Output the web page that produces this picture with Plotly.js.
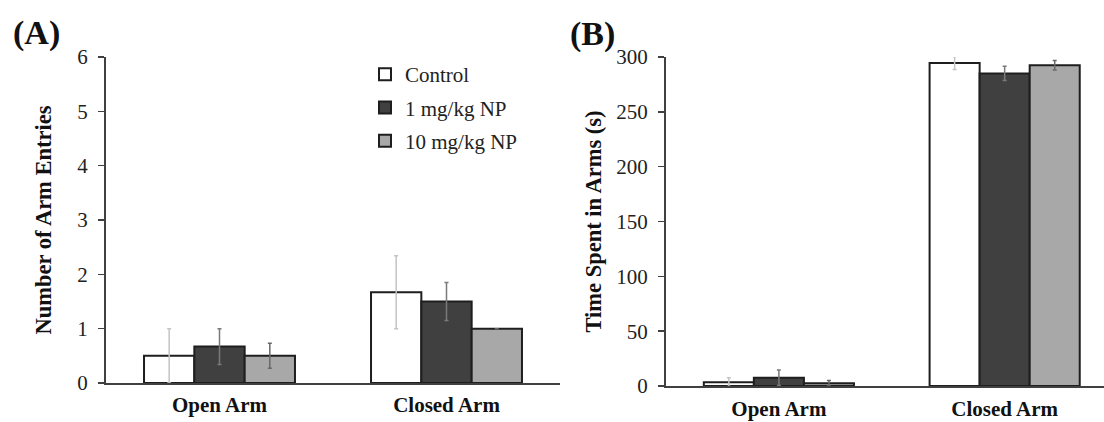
<!DOCTYPE html>
<html>
<head>
<meta charset="utf-8">
<script src="https://cdn.plot.ly/plotly-3.0.1.min.js"></script>
<style>html,body{margin:0;padding:0;background:#fff;}#chart{width:1104px;height:422px;}</style>
</head>
<body>
<div id="chart"></div>
<script>
const categories = ['Open Arm', 'Closed Arm'];
const seriesNames = ['Control', '1 mg/kg NP', '10 mg/kg NP'];

// Panel A: Number of Arm Entries
const entriesControl = [0.5, 1.67];
const entriesControlErr = [0.5, 0.67];
const entries1mg = [0.67, 1.5];
const entries1mgErr = [0.33, 0.35];
const entries10mg = [0.5, 1.0];
const entries10mgErr = [0.23, null];

// Panel B: Time Spent in Arms (s)
const timeControl = [3.5, 294.5];
const timeControlErr = [4, 6];
const time1mg = [7.5, 285];
const time1mgErr = [7, 6.5];
const time10mg = [2.5, 292.5];
const time10mgErr = [2.5, 4.3];

const yTicksA = [0, 1, 2, 3, 4, 5, 6];
const yTicksB = [0, 50, 100, 150, 200, 250, 300];

const fills = ['#ffffff', '#404040', '#a8a8a8'];
const errColors = ['#c4c4c4', '#7a7a7a', '#686868'];
const SERIF = 'Liberation Serif, Times New Roman, serif';

function mk(name, y, err, i, xa, ya, show) {
  return {
    type: 'bar', name: name, x: categories, y: y,
    xaxis: xa, yaxis: ya, showlegend: show, legendgroup: 'g' + i,
    marker: {color: fills[i], line: {color: '#1e1e1e', width: 2}},
    error_y: {type: 'data', array: err, visible: true, color: errColors[i], thickness: 1.5, width: 2},
    hoverinfo: 'skip'
  };
}

const data = [
  mk(seriesNames[0], entriesControl, entriesControlErr, 0, 'x', 'y', true),
  mk(seriesNames[1], entries1mg, entries1mgErr, 1, 'x', 'y', true),
  mk(seriesNames[2], entries10mg, entries10mgErr, 2, 'x', 'y', true),
  mk(seriesNames[0], timeControl, timeControlErr, 0, 'x2', 'y2', false),
  mk(seriesNames[1], time1mg, time1mgErr, 1, 'x2', 'y2', false),
  mk(seriesNames[2], time10mg, time10mgErr, 2, 'x2', 'y2', false)
];

const W = 1104, H = 422;
const tickFont = {family: SERIF, size: 21, color: '#222'};
const catFont = {family: SERIF, size: 21, color: '#111', weight: 'bold'};
const titleFont = {family: SERIF, size: 22.5, color: '#111', weight: 'bold'};

function xax(domain, range, standoff) {
  return {
    domain: domain, range: range, type: 'category',
    showline: true, linecolor: '#404040', linewidth: 2,
    ticks: '', showgrid: false, zeroline: false,
    tickfont: catFont, ticklabelstandoff: standoff, fixedrange: true
  };
}
function yax(domain, range, ticks, title, standoff, anchor) {
  return {
    domain: domain, range: range, anchor: anchor,
    tickmode: 'array', tickvals: ticks, ticktext: ticks.map(String),
    showline: true, linecolor: '#404040', linewidth: 2,
    ticks: 'outside', ticklen: 6, tickwidth: 1.5, tickcolor: '#404040',
    ticklabelstandoff: 6,
    showgrid: false, zeroline: false, tickfont: tickFont,
    title: {text: title, font: titleFont, standoff: standoff},
    fixedrange: true
  };
}

const layout = {
  width: W, height: H,
  margin: {l: 0, r: 0, t: 0, b: 0, pad: 0},
  paper_bgcolor: '#fff', plot_bgcolor: 'rgba(0,0,0,0)',
  barmode: 'group', bargap: 0.335, bargroupgap: 0,
  showlegend: true,
  legend: {
    x: 365 / W, xanchor: 'left', y: (H - 54) / H, yanchor: 'top',
    font: {family: SERIF, size: 21, color: '#222'},
    bgcolor: 'rgba(0,0,0,0)', borderwidth: 0,
    traceorder: 'grouped', tracegroupgap: 3
  },
  xaxis: xax([106 / W, 560 / W], [-0.5, 1.5], 2),
  yaxis: yax([(H - 383) / H, (H - 57) / H], [0, 6], yTicksA, 'Number of Arm Entries', 19, 'x'),
  xaxis2: xax([666 / W, 1], [-0.5, 1.44], 3),
  yaxis2: yax([(H - 386) / H, (H - 57) / H], [0, 300], yTicksB, 'Time Spent in Arms (s)', 8, 'x2'),
  annotations: [
    {text: '(A)', xref: 'paper', yref: 'paper', x: 11 / W, y: (H - 33) / H, xanchor: 'left', yanchor: 'middle',
     showarrow: false, font: {family: SERIF, size: 34, color: '#111', weight: 'bold'}},
    {text: '(B)', xref: 'paper', yref: 'paper', x: 568 / W, y: (H - 34) / H, xanchor: 'left', yanchor: 'middle',
     showarrow: false, font: {family: SERIF, size: 34, color: '#111', weight: 'bold'}}
  ]
};
layout.xaxis.anchor = 'y';
layout.xaxis2.anchor = 'y2';

Plotly.newPlot('chart', data, layout, {displayModeBar: false, staticPlot: true});
</script>
</body>
</html>
